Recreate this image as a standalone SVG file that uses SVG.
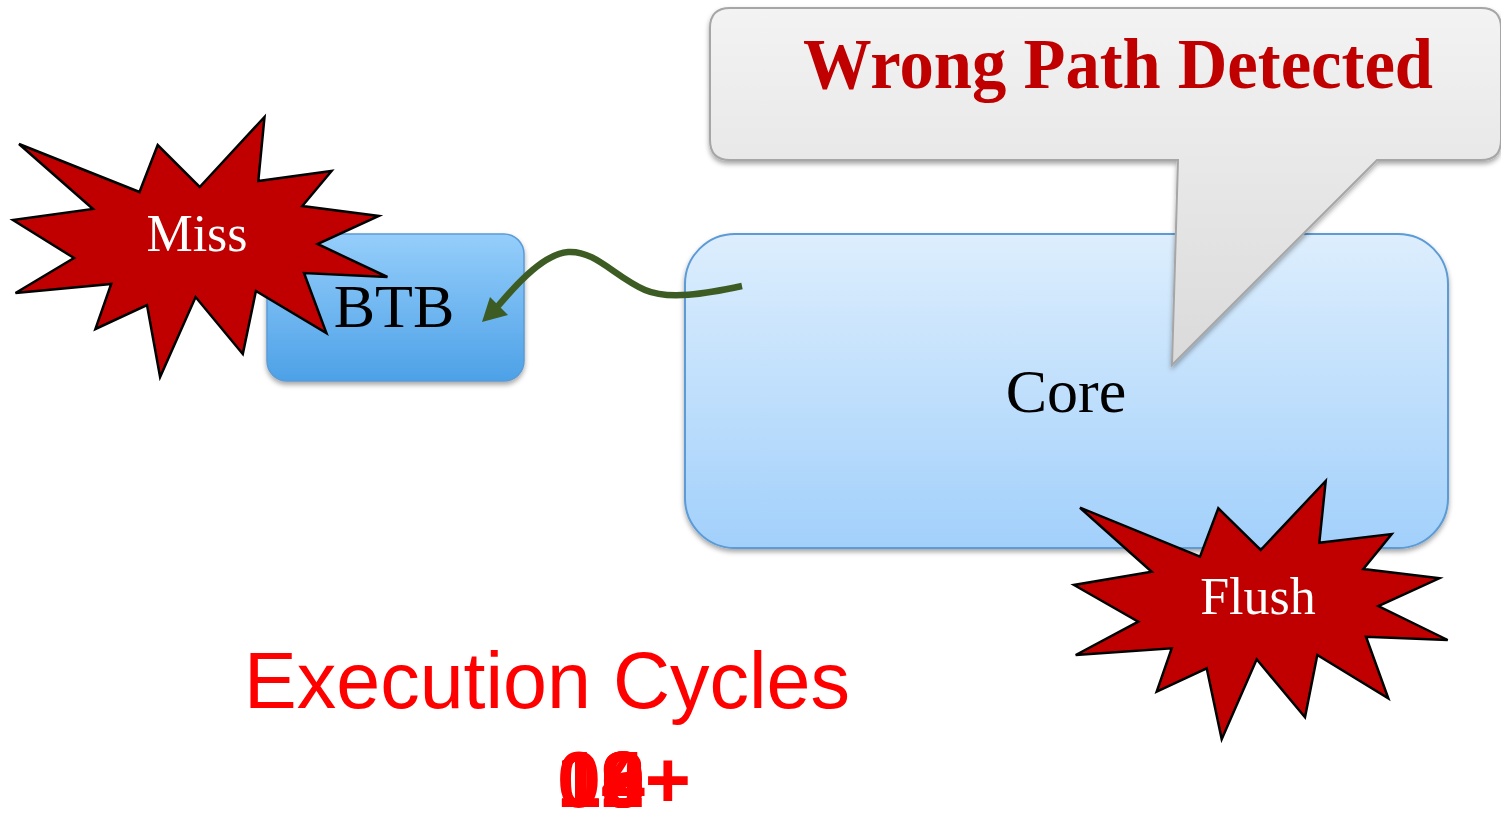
<svg xmlns="http://www.w3.org/2000/svg" width="1501" height="815" viewBox="0 0 1501 815">
  <style>
    .serif { font-family: "Liberation Serif", "Times New Roman", serif; }
    .sans { font-family: "Liberation Sans", Arial, sans-serif; }
    .star { fill: #C00000; stroke: #000000; stroke-width: 2.5; stroke-linejoin: miter; }
    .starText { fill: #FFFFFF; font-size: 52px; text-anchor: middle; }
    .boxText { fill: #000000; font-size: 62px; text-anchor: middle; }
    .count { fill: #FF0000; font-size: 79px; font-weight: bold; }
  </style>
  <defs>
    <linearGradient id="btbFill" x1="0" y1="0" x2="0" y2="1">
      <stop offset="0" stop-color="#95CEFB"/>
      <stop offset="1" stop-color="#4DA1E7"/>
    </linearGradient>
    <linearGradient id="coreFill" x1="0" y1="0" x2="0" y2="1">
      <stop offset="0" stop-color="#DDEEFD"/>
      <stop offset="1" stop-color="#A2D0FB"/>
    </linearGradient>
    <linearGradient id="calloutFill" x1="0" y1="0" x2="0" y2="1">
      <stop offset="0" stop-color="#F3F3F3"/>
      <stop offset="1" stop-color="#DADADA"/>
    </linearGradient>
    <filter id="shadow" x="-10%" y="-10%" width="120%" height="130%">
      <feDropShadow dx="0" dy="3" stdDeviation="2.5" flood-color="#000000" flood-opacity="0.35"/>
    </filter>
  </defs>

  <!-- Core block -->
  <g id="core">
    <rect x="685" y="234" width="763" height="314" rx="50" ry="50" fill="url(#coreFill)" stroke="#5B9BD5" stroke-width="2" filter="url(#shadow)"/>
    <text class="serif boxText" x="1066" y="412">Core</text>
  </g>

  <!-- BTB block -->
  <g id="btb">
    <rect x="267" y="234" width="257" height="147" rx="20" ry="20" fill="url(#btbFill)" stroke="#5B9BD5" stroke-width="1.5" filter="url(#shadow)"/>
    <text class="serif boxText" x="394" y="327">BTB</text>
  </g>

  <!-- Connectors -->
  <g id="connectors">
    <path d="M742,286 C705,294 668,300 645,290 C615,277 595,250 568,252 C545,254 520,280 498,306" fill="none" stroke="#3D5C24" stroke-width="6.5"/>
    <polygon points="482,322 490,297 508,315" fill="#3D5C24"/>
  </g>

  <!-- Miss burst -->
  <g id="miss">
    <polygon class="star" points="19,144 139.5,192 157.7,145 199.7,187 264.5,117 258.3,181 331.6,171 302.3,206 378.8,216 317.5,244 387.4,277 304,273 326.4,333 255.9,291 242.8,354 195.6,297 160.1,377 147,305 95.4,329 111.2,284 15.5,293 74,258 13,220 93,209"/>
    <text class="serif starText" x="197" y="251">Miss</text>
  </g>

  <!-- Flush burst -->
  <g id="flush">
    <polygon class="star" points="1080,507.7 1200,556.7 1218.3,508.3 1260.7,550 1325.7,481 1319.3,542.7 1391.7,534 1363.3,569 1439.3,578.3 1378.3,606 1447.7,640 1366,636.7 1388.3,698.3 1317.3,655 1305,717.3 1256.7,659.3 1221.7,739.3 1206.7,668.3 1156.7,691.7 1171.7,648.3 1075.7,655 1138.3,621.7 1074,585 1151.7,571.7"/>
    <text class="serif starText" x="1258" y="614">Flush</text>
  </g>

  <!-- Speech callout -->
  <g id="callout">
    <path d="M730,8 H1481 Q1501,8 1501,28 V140 Q1501,160 1481,160 H1377 L1172,365 L1178,160 H730 Q710,160 710,140 V28 Q710,8 730,8 Z" fill="url(#calloutFill)" stroke="#A6A6A6" stroke-width="2" filter="url(#shadow)"/>
    <text class="serif" x="803" y="88" font-size="72" font-weight="bold" fill="#C00000" textLength="630" lengthAdjust="spacingAndGlyphs">Wrong Path Detected</text>
  </g>

  <!-- Cycle counter: successive values stacked in one spot -->
  <g id="cycles">
    <text class="sans" x="244" y="708" font-size="79" fill="#FF0000">Execution Cycles</text>
    <g class="sans count">
      <text x="557" y="807">0</text>
      <text x="557" y="807">10</text>
      <text x="557" y="807">12</text>
      <text x="557" y="807">14</text>
      <text x="557" y="807">16</text>
      <text x="557" y="807">18</text>
      <text x="557" y="807">19+</text>
    </g>
  </g>
</svg>
